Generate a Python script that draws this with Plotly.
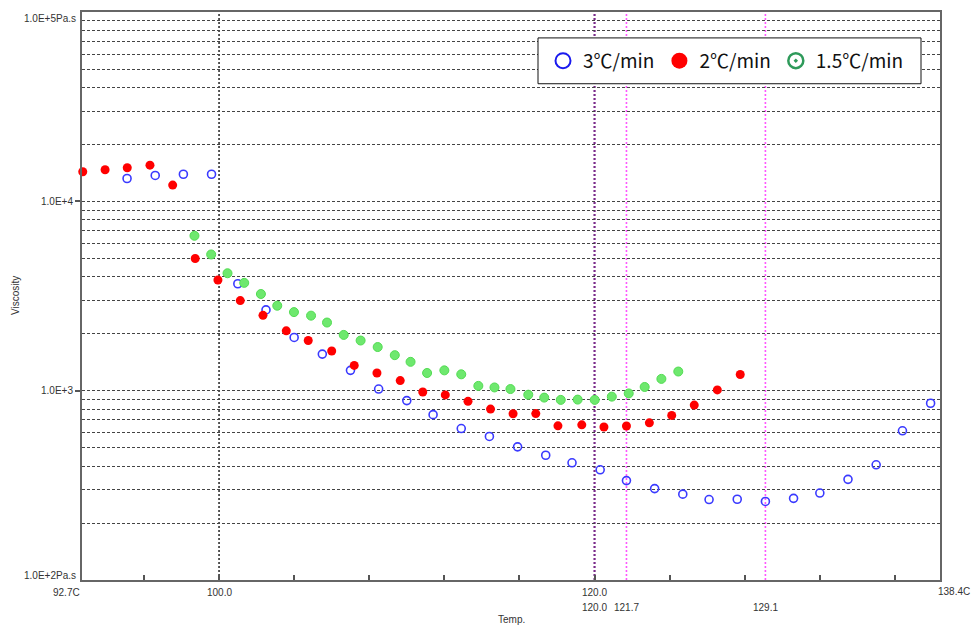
import plotly.graph_objects as go

# ---- data ----
blue_temp = [95.1, 96.6, 98.1, 99.6, 101.0, 102.5, 104.0, 105.5, 107.0, 108.5, 110.0, 111.4, 112.9, 114.4, 115.9,
             117.4, 118.8, 120.3, 121.7, 123.2, 124.7, 126.1, 127.6, 129.1, 130.6, 132.0, 133.5, 135.0, 136.4, 137.9]
blue_visc = [13200, 13700, 13900, 13900, 3670, 2670, 1910, 1560, 1280, 1020, 886, 747, 631, 573, 505,
             456, 416, 382, 335, 304, 284, 266, 267, 260, 270, 288, 340, 406, 614, 858]

red_temp = [92.74, 93.93, 95.11, 96.32, 97.53, 98.73, 99.94, 101.13, 102.34, 103.58, 104.75, 106.0, 107.2, 108.41,
            109.65, 110.85, 112.05, 113.26, 114.46, 115.66, 116.87, 118.05, 119.32, 120.5, 121.7, 122.92, 124.11,
            125.31, 126.54, 127.76]
red_visc = [14330, 14680, 15040, 15530, 12180, 4990, 3840, 2990, 2500, 2070, 1840, 1620, 1360, 1240,
            1130, 984, 950, 878, 799, 755, 757, 652, 660, 643, 651, 676, 740, 839, 1009, 1218]

green_temp = [98.69, 99.58, 100.45, 101.34, 102.23, 103.10, 103.99, 104.90, 105.75, 106.64, 107.54, 108.45, 109.36,
              110.20, 111.08, 112.00, 112.90, 113.81, 114.67, 115.52, 116.47, 117.32, 118.20, 119.10, 120.01, 120.92,
              121.82, 122.67, 123.56, 124.46]
green_visc = [6580, 5240, 4170, 3710, 3240, 2810, 2600, 2490, 2290, 1970, 1840, 1700, 1540,
              1420, 1240, 1280, 1220, 1060, 1040, 1020, 952, 919, 894, 897, 894, 930,
              967, 1046, 1154, 1262]

series_names = ["3℃/min", "2℃/min", "1.5℃/min"]

x_min, x_max = 92.7, 138.4
x_label_vals = [92.7, 100.0, 120.0, 138.4]
x_label_text = ["92.7C", "100.0", "120.0", "138.4C"]
x_minor_ticks = [96, 104, 108, 112, 116, 124, 128, 132, 136]
marker_lines = [120.0, 121.7, 129.1]
marker_line_text = ["120.0", "121.7", "129.1"]

y_tick_vals = [1e3, 1e4]
y_tick_text = ["1.0E+3", "1.0E+4"]
y_end_vals = [1e5, 1e2]
y_end_text = ["1.0E+5Pa.s", "1.0E+2Pa.s"]
y_minor_vals = [m * 10 ** d for d in (2, 3, 4) for m in range(2, 10)]

# full-window figure (page margin removed in post_script)
W, H = 971, 626
ML, MR, MT, MB = 82, 31, 10, 46
PW = W - ML - MR
PH = H - MT - MB

def px(xpage):
    return (xpage - ML) / PW

def py(ypage):
    return 1 - (ypage - MT) / PH

# ---- figure ----
fig = go.Figure()

fig.add_trace(go.Scatter(x=blue_temp, y=blue_visc, mode="markers", showlegend=False, cliponaxis=False,
                         marker=dict(symbol="circle-open", size=8, color="#3a3aff", line=dict(width=1.6, color="#3a3aff"))))
fig.add_trace(go.Scatter(x=red_temp, y=red_visc, mode="markers", showlegend=False, cliponaxis=False,
                         marker=dict(symbol="circle", size=9, color="#ff0000", line=dict(width=0))))
fig.add_trace(go.Scatter(x=green_temp, y=green_visc, mode="markers", showlegend=False, cliponaxis=False,
                         marker=dict(symbol="circle", size=9, color="#6ee86e", line=dict(width=1, color="#52dc52"))))

# legend entries
fig.add_trace(go.Scatter(x=[None], y=[None], mode="markers", name=series_names[0],
                         marker=dict(symbol="circle-open", size=15, color="#1a1aee", line=dict(width=2, color="#1a1aee"))))
fig.add_trace(go.Scatter(x=[None], y=[None], mode="markers", name=series_names[1],
                         marker=dict(symbol="circle", size=16, color="#ff0000")))
fig.add_trace(go.Scatter(x=[None], y=[None], mode="markers", name=series_names[2],
                         marker=dict(symbol="circle-open-dot", size=15, color="#2e9a5a", line=dict(width=2.5, color="#2e9a5a"))))

# vertical lines
fig.add_shape(type="line", xref="x", yref="paper", x0=100.0, x1=100.0, y0=0, y1=1,
              line=dict(color="#222222", width=1.5, dash="2px,2px"), layer="below")
colors_v = ["#7a2a8a", "#ff55ff", "#ff55ff"]
widths_v = [2.2, 1.6, 1.6]
for xv, c, w in zip(marker_lines, colors_v, widths_v):
    fig.add_shape(type="line", xref="x", yref="paper", x0=xv, x1=xv, y0=0, y1=1,
                  line=dict(color=c, width=w, dash="2px,2px"), layer="below")

# legend box
fig.add_shape(type="rect", xref="paper", yref="paper",
              x0=px(538), x1=px(921), y0=py(82), y1=py(36),
              fillcolor="white", line=dict(color="#111111", width=1), layer="above")

annotations = []
font_ax = dict(family="Liberation Sans, Arial", size=10, color="#333333")
for v, t in zip(x_label_vals, x_label_text):
    if v == x_min:
        annotations.append(dict(x=v, y=0, xref="x", yref="paper", text=t, showarrow=False,
                                xanchor="right", yanchor="top", yshift=-5, font=font_ax))
    elif v == x_max:
        annotations.append(dict(x=v, y=0, xref="x", yref="paper", text=t, showarrow=False,
                                xanchor="left", yanchor="top", yshift=-5, xshift=-3, font=font_ax, borderpad=0))
    else:
        annotations.append(dict(x=v, y=0, xref="x", yref="paper", text=t, showarrow=False,
                                xanchor="center", yanchor="top", yshift=-5, font=font_ax))
for v, t in zip(marker_lines, marker_line_text):
    annotations.append(dict(x=v, y=0, xref="x", yref="paper", text=t, showarrow=False,
                            xanchor="center", yanchor="top", yshift=-20, font=font_ax))
for v, t, ys in zip(y_end_vals, y_end_text, [-6, 5]):
    annotations.append(dict(x=0, y=2 if v == 1e2 else 5, xref="paper", yref="y", text=t, showarrow=False,
                            xanchor="right", yanchor="middle", xshift=-4, yshift=ys, font=font_ax))
annotations.append(dict(x=0, y=0.5, xref="paper", yref="paper", text="Viscosity", textangle=-90, showarrow=False,
                        xanchor="center", yanchor="middle", xshift=-67, font=font_ax))
annotations.append(dict(x=0.5, y=0, xref="paper", yref="paper", text="Temp.", showarrow=False,
                        xanchor="center", yanchor="top", yshift=-32, font=font_ax))

fig.update_layout(
    width=W, height=H,
    margin=dict(l=ML, r=MR, t=MT, b=MB),
    paper_bgcolor="white", plot_bgcolor="white",
    annotations=annotations,
    hovermode=False,
    legend=dict(orientation="h", x=px(543), xanchor="left", y=py(59), yanchor="middle",
                bgcolor="rgba(0,0,0,0)", borderwidth=0,
                font=dict(family="Noto Sans CJK KR", size=19, color="#111111"),
                itemwidth=30, tracegroupgap=0),
)

fig.update_xaxes(range=[x_min, x_max], showgrid=False, zeroline=False,
                 tickmode="array", tickvals=[100.0, 120.0], ticktext=["", ""], ticks="inside", ticklen=5,
                 tickcolor="#555555", tickwidth=1.5,
                 minor=dict(tickmode="array", tickvals=x_minor_ticks, ticks="inside", ticklen=5,
                            tickcolor="#555555", tickwidth=1.5, showgrid=False),
                 showline=True, linecolor="#666666", linewidth=2, mirror=True)
fig.update_yaxes(type="log", range=[2, 5], zeroline=False,
                 tickmode="array", tickvals=y_tick_vals, ticktext=y_tick_text, ticks="outside", ticklen=5,
                 tickcolor="#555555", tickwidth=2,
                 tickfont=font_ax,
                 showgrid=True, gridcolor="#444444", gridwidth=1, griddash="3px,2px",
                 minor=dict(tickmode="array", tickvals=y_minor_vals, ticks="", showgrid=True,
                            gridcolor="#444444", gridwidth=1, griddash="3px,2px"),
                 showline=True, linecolor="#666666", linewidth=2, mirror=True)

fig.write_html("out.html", config={"displayModeBar": False},
               post_script="document.body.style.margin='0';document.body.style.overflow='hidden';")
